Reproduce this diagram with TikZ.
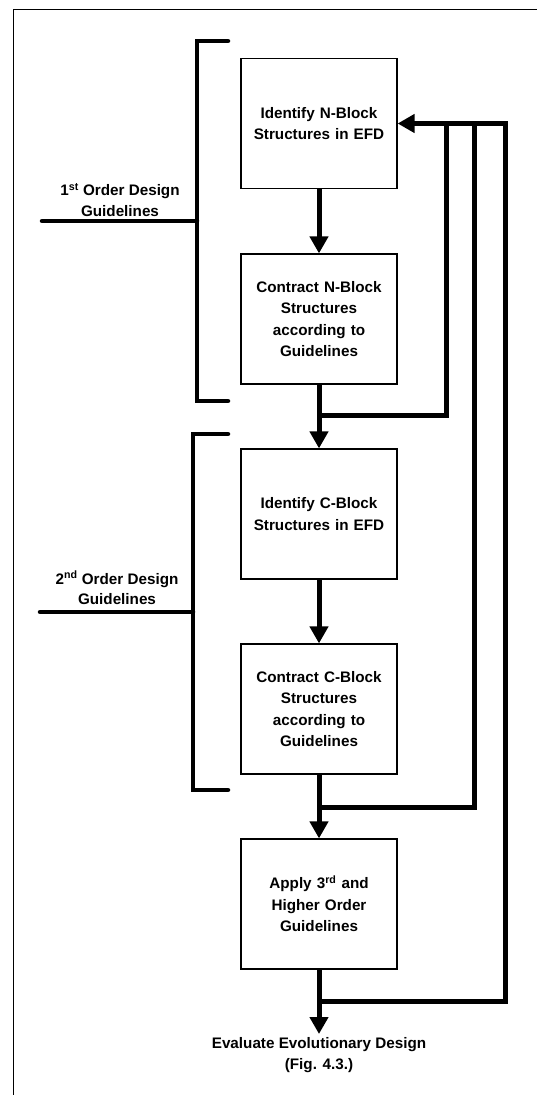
\documentclass[tikz,border=0pt]{standalone}
\usepackage{fontspec}
\setmainfont{Liberation Sans}
\usetikzlibrary{arrows.meta}
\begin{document}
\begin{tikzpicture}[x=1bp,y=-1bp,
  stepbox/.style={draw, line width=1.2bp, minimum width=155bp, minimum height=130bp,
    inner sep=2bp, align=center, text width=152bp,
    font=\bfseries\fontsize{15.3}{21.5}\selectfont},
  conn/.style={line width=5bp, line join=miter},
  arr/.style={conn, -{Triangle[length=17bp,width=18bp]}},
  brk/.style={line width=4.5bp, line cap=round, line join=miter},
  lbl/.style={align=center, font=\bfseries\fontsize{15.3}{20.5}\selectfont},
]
\useasboundingbox (0,0) rectangle (537,1095);
% frame
\draw[line width=1bp] (13,1095) -- (13,9) -- (537,9);

% boxes
\node[stepbox] (b1) at (319,123.5) {Identify N-Block\\Structures in EFD};
\node[stepbox] (b2) at (319,319) {Contract N-Block\\Structures\\according to\\Guidelines};
\node[stepbox] (b3) at (319,514) {Identify C-Block\\Structures in EFD};
\node[stepbox] (b4) at (319,709) {Contract C-Block\\Structures\\according to\\Guidelines};
\node[stepbox] (b5) at (319,904) {Apply 3\textsuperscript{rd} and\\Higher Order\\Guidelines};
\node[lbl, anchor=north] (out) at (319,1034) {Evaluate Evolutionary Design\\(Fig. 4.3.)};

% junctions and corners
\coordinate (j1) at (319,415);
\coordinate (j2) at (319,807);
\coordinate (j3) at (319,1001);
\coordinate (c1) at (446,123.5);
\coordinate (c2) at (474,123.5);
\coordinate (c3) at (505,123.5);

% main flow
\draw[arr] (b1.south) -- (b2.north);
\draw[arr] (b2.south) -- (b3.north);
\draw[arr] (b3.south) -- (b4.north);
\draw[arr] (b4.south) -- (b5.north);
\draw[arr] (b5.south) -- (out.north);

% feedback loops
\draw[conn] (j1) -| (c1);
\draw[conn] (j2) -| (c2);
\draw[arr] (j3) -| (c3) -- (b1.east);

% brackets
\draw[brk] (228,41) -- (197,41) -- (197,401) -- (228,401);
\coordinate (k1) at (197,221);
\draw[brk] (42,221) -- (k1);
\node[lbl] (l1) at (120,200) {1\textsuperscript{st} Order Design\\Guidelines};

\draw[brk] (228,434) -- (193,434) -- (193,790) -- (228,790);
\coordinate (k2) at (193,612);
\draw[brk] (40,612) -- (k2);
\node[lbl] (l2) at (117,588) {2\textsuperscript{nd} Order Design\\Guidelines};
\end{tikzpicture}
\end{document}
